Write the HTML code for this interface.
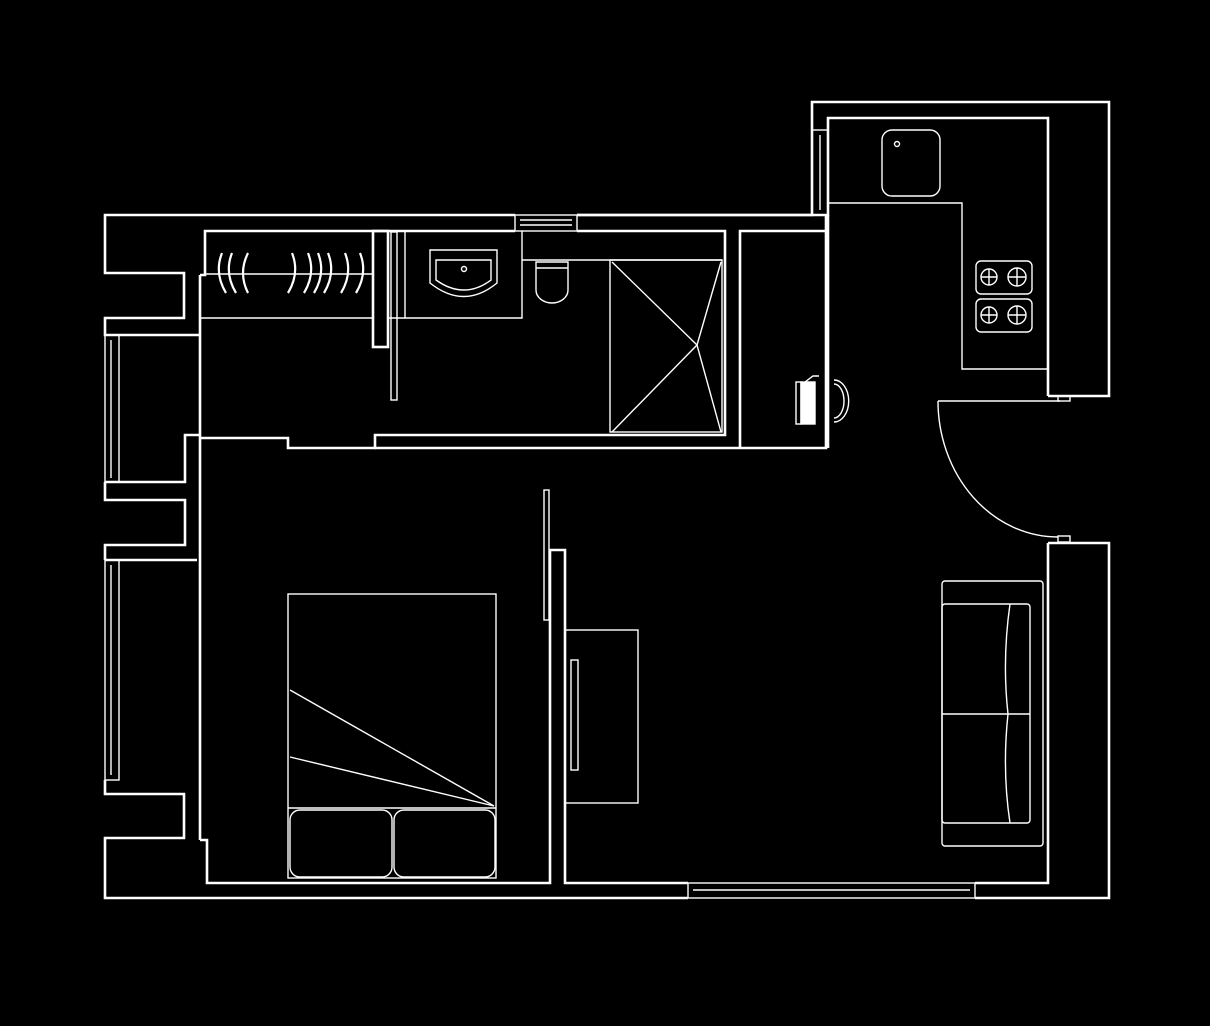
<!DOCTYPE html>
<html><head><style>html,body{margin:0;padding:0;background:#000;}svg{display:block}</style></head>
<body>
<svg width="1210" height="1026" viewBox="0 0 1210 1026" xmlns="http://www.w3.org/2000/svg">
<rect width="1210" height="1026" fill="#000"/>
<g fill="none" stroke="#fff" stroke-width="2.6" stroke-linejoin="miter">
<!-- outer boundary -->
<polyline points="515,215 105,215 105,273 184,273 184,318 105,318 105,335 200,335"/>
<polyline points="577,215 812,215 812,102 1109,102 1109,396 1048,396"/>
<polyline points="1048,543 1109,543 1109,898 975,898"/>
<polyline points="688,898 105,898 105,838 184,838 184,794 105,794 105,780"/>
<polyline points="105,560 197,560"/>
<polyline points="105,482 185,482 185,435 200,435"/>
<polyline points="105,482 105,500 185,500 185,545 105,545 105,560"/>
<!-- inner lines -->
<polyline points="200,275 205,275 205,231 515,231"/>
<polyline points="577,231 725,231 725,435 375,435 375,448 288,448 288,438 200,438"/>
<line x1="200" y1="275" x2="200" y2="840"/>
<polyline points="200,840 207,840 207,883 550,883 550,550 565,550 565,883 688,883"/>
<polyline points="975,883 1048,883 1048,543"/>
<polyline points="1048,396 1048,118 828,118 828,215 577,215"/>
<polyline points="375,448 826,448 826,231 740,231 740,448"/>
<line x1="826" y1="231" x2="826" y2="215"/>
<line x1="828" y1="215" x2="828" y2="448"/>
<!-- partition block -->
<rect x="373" y="231" width="15" height="116"/>
</g>
<g fill="none" stroke="#fff" stroke-width="1.4">
<!-- top windows -->
<rect x="515" y="215" width="62" height="16"/><line x1="520" y1="220" x2="572" y2="220"/><line x1="520" y1="225" x2="572" y2="225"/>
<rect x="812" y="130" width="16" height="85"/><line x1="820" y1="135" x2="820" y2="210"/>
<!-- left windows -->
<rect x="105" y="335" width="14" height="147"/><line x1="111" y1="340" x2="111" y2="478"/>
<rect x="105" y="560" width="14" height="220"/><line x1="111" y1="565" x2="111" y2="775"/>
<!-- bottom window -->
<rect x="688" y="883" width="287" height="15"/><line x1="693" y1="890" x2="970" y2="890"/>
<!-- wardrobe -->
<line x1="200" y1="318" x2="373" y2="318"/>
<line x1="205" y1="274" x2="373" y2="274"/>
<path d="M222,253 q-8,20 4,40 M232,253 q-8,20 4,40 M248,253 q-10,20 0,40 M292,253 q8,20 -4,40 M308,253 q8,20 -4,40 M318,253 q8,20 -4,40 M328,253 q8,20 -4,40 M345,253 q8,20 -4,40 M360,253 q8,20 -4,40" stroke-width="2.2"/>
<!-- sliding door -->
<rect x="391" y="232" width="6" height="168"/>
<polyline points="388,318 405,318"/>
<!-- basin -->
<polyline points="405,231 405,318 522,318 522,231"/>
<line x1="522" y1="260" x2="722" y2="260"/>
<path d="M430,250 L497,250 L497,283 Q464,310 430,283 Z"/>
<path d="M436,260 L491,260 L491,280 Q464,300 436,280 Z"/>
<circle cx="464" cy="269" r="2.5"/>
<!-- toilet -->
<path d="M536,262 L568,262 L568,290 A16,13 0 0 1 536,290 Z"/>
<line x1="536" y1="268" x2="568" y2="268"/>
<!-- shower -->
<rect x="610" y="260" width="112" height="172"/>
<polyline points="612,262 697,345 612,432"/>
<polyline points="721,262 697,345 721,432"/>
<!-- fridge -->
<rect x="882" y="130" width="58" height="66" rx="10"/>
<circle cx="897" cy="144" r="2.5"/>
<!-- counter -->
<polyline points="828,203 962,203 962,369 1048,369"/>
<rect x="976" y="261" width="56" height="33" rx="5"/>
<rect x="976" y="299" width="56" height="33" rx="5"/>
<g>
<circle cx="989" cy="277" r="8"/><circle cx="1017" cy="277" r="9"/>
<circle cx="989" cy="315" r="8"/><circle cx="1017" cy="315" r="9"/>
<path d="M981,277h16M989,269v16M1008,277h18M1017,268v18M981,315h16M989,307v16M1008,315h18M1017,306v18"/>
</g>
<!-- heater / washer -->
<rect x="796" y="382" width="5" height="42"/>
<rect x="801" y="382" width="14" height="42" fill="#fff"/>
<path d="M805,382 l8,-6 l6,0"/>
<path d="M834,380 A14,20 0 0 1 834,422 M834,384 A10,17 0 0 1 834,418"/>
<!-- entry door -->
<line x1="938" y1="401" x2="1060" y2="401"/>
<path d="M938,401 A120,136 0 0 0 1058,537"/>
<rect x="1058" y="396" width="12" height="5"/>
<rect x="1058" y="536" width="12" height="6"/>
<!-- bedroom slider -->
<rect x="544" y="490" width="5" height="130"/>
<!-- TV -->
<rect x="565" y="630" width="73" height="173"/>
<rect x="571" y="660" width="7" height="110"/>
<!-- bed -->
<rect x="288" y="594" width="208" height="284"/>
<line x1="288" y1="808" x2="496" y2="808"/>
<rect x="290" y="810" width="102" height="67" rx="10"/>
<rect x="394" y="810" width="101" height="67" rx="10"/>
<line x1="290" y1="690" x2="494" y2="806"/>
<line x1="290" y1="757" x2="494" y2="806"/>
<!-- sofa -->
<rect x="942" y="581" width="101" height="265" rx="3"/>
<rect x="942" y="604" width="88" height="219" rx="3"/>
<line x1="942" y1="714" x2="1030" y2="714"/>
<path d="M1010,604 Q1002,660 1008,714 Q1002,770 1010,823"/>
</g>
</svg>
</body></html>
